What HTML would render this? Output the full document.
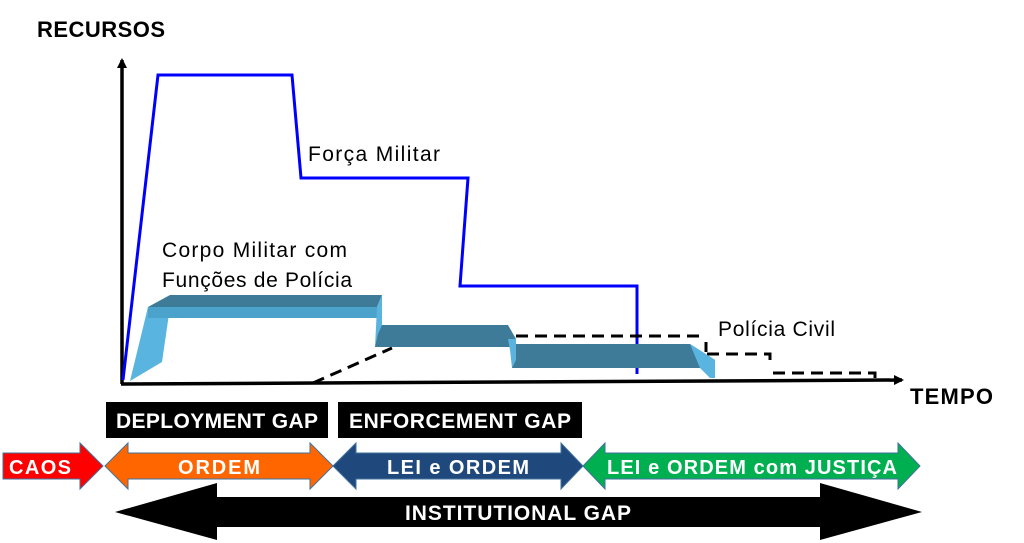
<!DOCTYPE html>
<html><head><meta charset="utf-8"><style>
body{margin:0;background:#fff}
svg{display:block}
text{font-family:"Liberation Sans",sans-serif}
</style></head><body>
<svg width="1024" height="543" viewBox="0 0 1024 543" xmlns="http://www.w3.org/2000/svg">
<defs>
<marker id="ah" markerWidth="10" markerHeight="10" refX="8" refY="5" orient="auto" markerUnits="userSpaceOnUse"><path d="M0,0 L10,5 L0,10 Z" fill="#000"/></marker>
</defs>
<line x1="122" y1="384" x2="122" y2="60" stroke="#000" stroke-width="3.5" marker-end="url(#ah)"/>
<line x1="121" y1="384" x2="902" y2="380" stroke="#000" stroke-width="3.5" marker-end="url(#ah)"/>
<text x="37" y="37" font-size="22" font-weight="bold" textLength="128">RECURSOS</text>
<text x="910" y="404" font-size="22" font-weight="bold" textLength="83">TEMPO</text>
<polyline points="123,380 158,75 292,75 301,178 468,178 460,286 637,286 637,374" fill="none" stroke="#0000ff" stroke-width="3"/>
<text x="308" y="161" font-size="21" textLength="132">Força Militar</text>
<text x="162" y="257" font-size="21" textLength="185">Corpo Militar com</text>
<text x="162" y="287" font-size="21" textLength="190">Funções de Polícia</text>
<text x="718" y="336" font-size="21" textLength="117">Polícia Civil</text>
<g stroke="#000" stroke-width="3" fill="none" stroke-dasharray="12,7">
<polyline points="313,383 392,348"/>
<polyline points="516,336 705,336"/>
<polyline points="707,354 770,354 770,362"/>
<polyline points="773,373 875,373 875,378"/>
</g>
<line x1="706" y1="342" x2="706" y2="352" stroke="#000" stroke-width="3"/>
<polygon points="130,381 148,307 170,307 162,362" fill="#5ab4e0"/>
<polygon points="148,307 148,318 377,318 377,307" fill="#4ba3cc"/>
<polygon points="148,307 170,295 382,295 377,307" fill="#3e7b98"/>
<polygon points="377,307 382,295 382,340 375,347" fill="#5ab4e0"/>
<polygon points="378,334 382,325 508,325 516,339 516,347 375,347" fill="#3e7b98"/>
<polygon points="508,339 516,339 516,368 512,368 510,350" fill="#5ab4e0"/>
<polygon points="516,344 690,344 715,360 715,368 512,368 516,360" fill="#3e7b98"/>
<polygon points="690,344 715,360 715,378 710,378 700,368" fill="#5ab4e0"/>
<rect x="106" y="402" width="222" height="36" fill="#000"/>
<text x="217" y="428" font-size="21" font-weight="bold" fill="#fff" text-anchor="middle" textLength="202">DEPLOYMENT GAP</text>
<rect x="338" y="402" width="244" height="36" fill="#000"/>
<text x="460" y="428" font-size="21" font-weight="bold" fill="#fff" text-anchor="middle" textLength="222">ENFORCEMENT GAP</text>
<polygon points="3,453 80,453 80,443 103,466 80,489 80,479 3,479" fill="#ff0000" stroke="#41719c" stroke-width="1"/>
<text x="40" y="474" font-size="20" font-weight="bold" fill="#fff" text-anchor="middle" textLength="62">CAOS</text>
<polygon points="105,466 128,443 128,453 310,453 310,443 333,466 310,489 310,479 128,479 128,489" fill="#ff6600" stroke="#41719c" stroke-width="1"/>
<text x="219" y="474" font-size="20" font-weight="bold" fill="#fff" text-anchor="middle" textLength="82">ORDEM</text>
<polygon points="333,466 356,443 356,453 561,453 561,443 583,466 561,489 561,479 356,479 356,489" fill="#1f497d" stroke="#41719c" stroke-width="1"/>
<text x="458" y="474" font-size="20" font-weight="bold" fill="#fff" text-anchor="middle" textLength="142">LEI e ORDEM</text>
<polygon points="583,466 605,443 605,453 898,453 898,443 920,466 898,489 898,479 605,479 605,489" fill="#00b050" stroke="#41719c" stroke-width="1"/>
<text x="752" y="474" font-size="20" font-weight="bold" fill="#fff" text-anchor="middle" textLength="290">LEI e ORDEM com JUSTIÇA</text>
<polygon points="115,512 217,483 217,497 820,497 820,483 922,512 820,540 820,527 217,527 217,540" fill="#000"/>
<text x="518" y="520" font-size="21" font-weight="bold" fill="#fff" text-anchor="middle" textLength="226">INSTITUTIONAL GAP</text>
</svg>
</body></html>
